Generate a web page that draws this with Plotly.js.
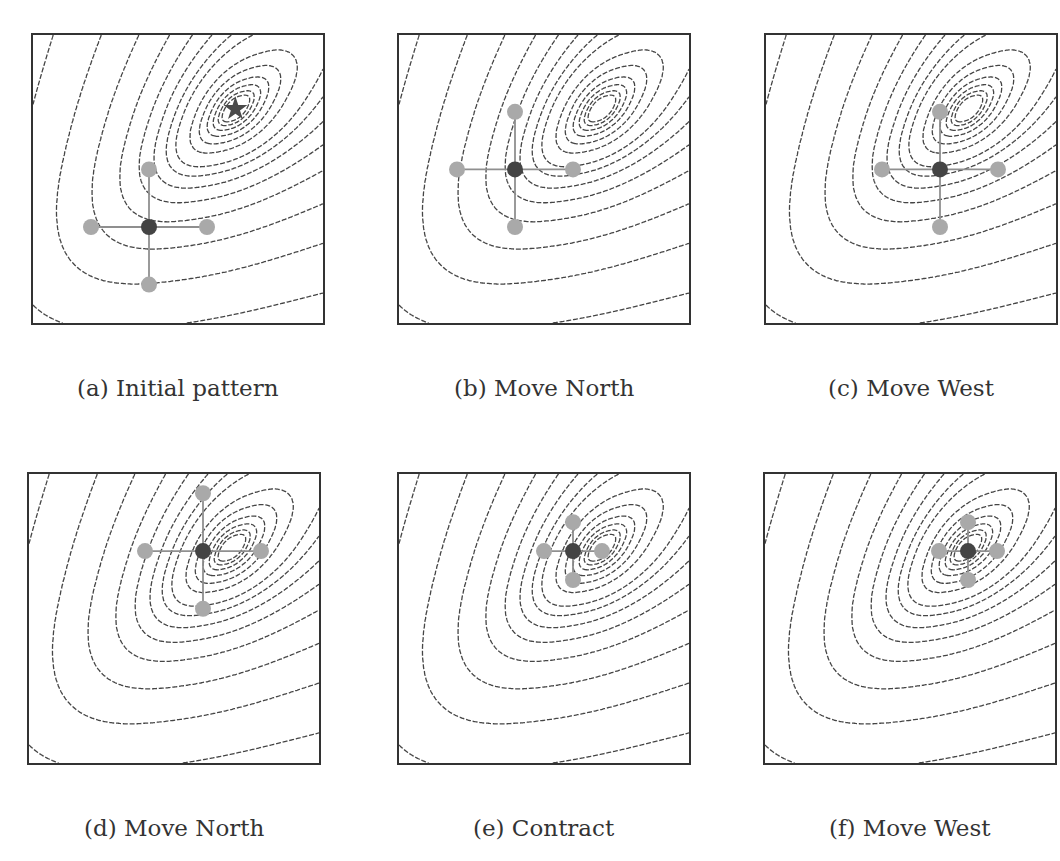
<!DOCTYPE html>
<html>
<head>
<meta charset="utf-8">
<script src="https://cdn.plot.ly/plotly-3.0.1.min.js"></script>
<style>
  html, body { margin: 0; padding: 0; background: #ffffff; }
  #chart { width: 1060px; height: 861px; }
</style>
</head>
<body>
<div id="chart"></div>
<script>
// Compass search on the modified Broyden tridiagonal function, n = 2:
// f(x) = |(3 - 2 x1) x1 - 2 x2 + 1|^(7/3) + |(3 - 2 x2) x2 - x1 + 1|^(7/3)

const panelLabels = ['(a) Initial pattern', '(b) Move North', '(c) Move West',
                     '(d) Move North', '(e) Contract', '(f) Move West'];
// current iterate and step length for each snapshot
const centerX1 = [-0.9, -0.9, -0.6, -0.6, -0.6, -0.45];
const centerX2 = [-1.0, -0.7, -0.7, -0.4, -0.4, -0.4];
const stepSize = [0.3, 0.3, 0.3, 0.3, 0.15, 0.15];
// minimizer, marked with a star in the first snapshot
const minimizerX1 = [-0.453];
const minimizerX2 = [-0.385];
// contour levels of f
const contourLevels = [0.05, 0.09, 0.17, 0.31, 0.58, 1.05, 2.15, 3.2, 5.0, 8.0, 13.5, 25.5, 50, 104];
const plotRange = [-1.5, 0];

// panel frames in page pixels: [left, top, right, bottom]
const W = 1060, H = 861;
const frames = [
  [33, 35, 323, 323], [399, 35, 689, 323], [766, 35, 1056, 323],
  [29, 474, 319, 763], [399, 474, 689, 763], [765, 474, 1055, 763]
];
const captionY = [388, 388, 388, 828, 828, 828];

function broyden(x1, x2) {
  const r1 = (3 - 2 * x1) * x1 - 2 * x2 + 1;
  const r2 = (3 - 2 * x2) * x2 - x1 + 1;
  return Math.pow(Math.abs(r1), 7 / 3) + Math.pow(Math.abs(r2), 7 / 3);
}

// map f onto the level index so that equally spaced contours land on contourLevels
function levelIndex(v) {
  const L = contourLevels, n = L.length;
  if (v <= L[0]) return v / L[0] - 1;
  for (let k = 0; k < n - 1; k++) {
    if (v <= L[k + 1]) return k + (v - L[k]) / (L[k + 1] - L[k]);
  }
  return n - 1 + (v - L[n - 1]) / (L[n - 1] - L[n - 2]);
}

const nGrid = 241;
const gx = [], gy = [];
for (let i = 0; i < nGrid; i++) {
  const t = plotRange[0] + (plotRange[1] - plotRange[0]) * i / (nGrid - 1);
  gx.push(t); gy.push(t);
}
const gz = gy.map(y => gx.map(x => levelIndex(broyden(x, y))));

const traces = [];
const layout = {
  width: W, height: H,
  margin: { l: 0, r: 0, t: 0, b: 0 },
  paper_bgcolor: '#ffffff', plot_bgcolor: '#ffffff',
  showlegend: false,
  annotations: []
};

for (let p = 0; p < 6; p++) {
  const sfx = p === 0 ? '' : String(p + 1);
  const xa = 'x' + sfx, ya = 'y' + sfx;
  const [l, t, r, b] = frames[p];
  const axisStyle = {
    range: plotRange, showgrid: false, zeroline: false, showticklabels: false,
    ticks: '', showline: true, mirror: true, linecolor: '#333333', linewidth: 2,
    fixedrange: true
  };
  layout['xaxis' + sfx] = Object.assign({}, axisStyle, { domain: [l / W, r / W], anchor: ya });
  layout['yaxis' + sfx] = Object.assign({}, axisStyle, { domain: [1 - b / H, 1 - t / H], anchor: xa });

  traces.push({
    type: 'contour', x: gx, y: gy, z: gz, xaxis: xa, yaxis: ya,
    autocontour: false,
    contours: { start: 0, end: contourLevels.length - 1, size: 1, coloring: 'none', showlabels: false },
    line: { color: '#454545', width: 1.3, dash: '5px,1.8px', smoothing: 1 },
    showscale: false, hoverinfo: 'skip'
  });

  const cx = centerX1[p], cy = centerX2[p], h = stepSize[p];
  traces.push({
    type: 'scatter', mode: 'lines', xaxis: xa, yaxis: ya,
    x: [cx - h, cx + h, null, cx, cx],
    y: [cy, cy, null, cy - h, cy + h],
    line: { color: '#8f8f8f', width: 1.8 }, hoverinfo: 'skip'
  });
  traces.push({
    type: 'scatter', mode: 'markers', xaxis: xa, yaxis: ya,
    x: [cx - h, cx + h, cx, cx],
    y: [cy, cy, cy - h, cy + h],
    marker: { color: '#a9a9a9', size: 16, line: { width: 0 } }, hoverinfo: 'skip'
  });
  traces.push({
    type: 'scatter', mode: 'markers', xaxis: xa, yaxis: ya,
    x: [cx], y: [cy],
    marker: { color: '#444444', size: 16, line: { width: 0 } }, hoverinfo: 'skip'
  });
  if (p === 0) {
    traces.push({
      type: 'scatter', mode: 'markers', xaxis: xa, yaxis: ya,
      x: minimizerX1, y: minimizerX2,
      marker: { symbol: 'star', color: '#4a4a4a', size: 18, line: { width: 0 } }, hoverinfo: 'skip'
    });
  }

  layout.annotations.push({
    xref: 'paper', yref: 'paper', x: (l + r) / 2 / W, y: 1 - captionY[p] / H,
    xanchor: 'center', yanchor: 'middle', showarrow: false,
    text: panelLabels[p],
    font: { family: 'DejaVu Serif, Liberation Serif, serif', size: 23, color: '#333333' }
  });
}

Plotly.newPlot('chart', traces, layout, { staticPlot: true, displayModeBar: false });
</script>
</body>
</html>
